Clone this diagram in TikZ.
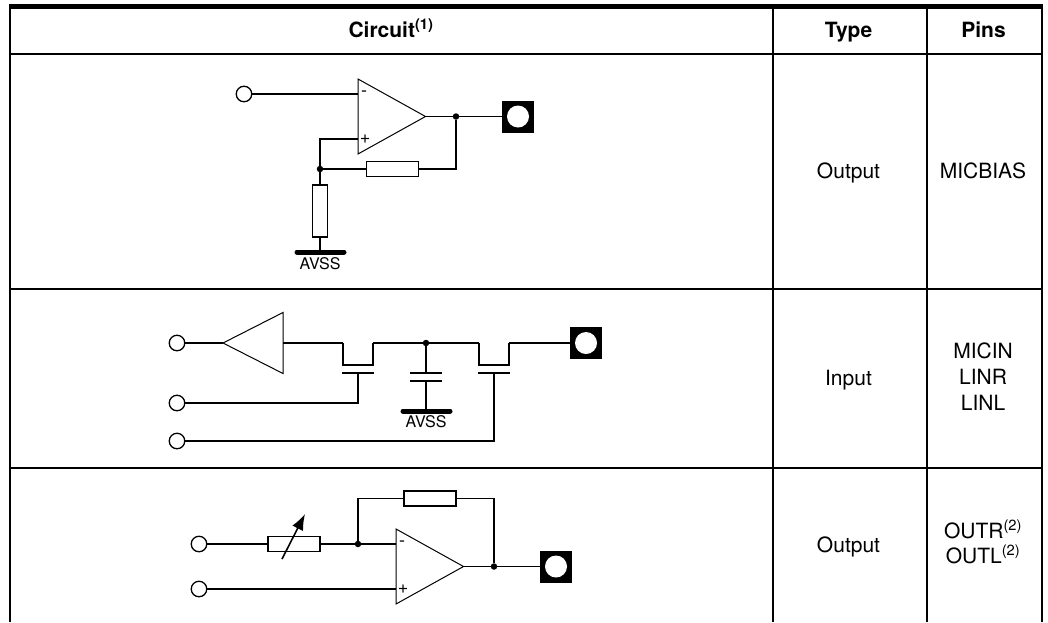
\documentclass[tikz,border=0pt]{standalone}
\usepackage{fontspec}
\setmainfont{TeX Gyre Heros}
\usepackage{tikz}
\usetikzlibrary{
  arrows.meta
}
\tikzset{
  x=1pt,
  y=-1pt,
  wire/.style={line width=1.6pt},
  rule/.style={line width=2pt},
  cell/.style={font=\fontsize{21}{26}\selectfont,anchor=base,inner sep=0pt},
  head/.style={cell,font=\fontsize{21}{26}\selectfont\bfseries},
  terminal/.style={draw,line width=1.3pt,circle,fill=white,inner sep=0pt,minimum size=15.5pt},
  pad/.style={fill=black,inner sep=0pt,minimum size=32pt},
  padhole/.style={fill=white,circle,inner sep=0pt,minimum size=22pt},
  junction/.style={fill=black,circle,inner sep=0pt,minimum size=6.5pt},
  hres/.style={draw,wire,fill=white,inner sep=0pt,minimum width=52pt,minimum height=15pt},
  vres/.style={draw,wire,fill=white,inner sep=0pt,minimum width=15pt,minimum height=52pt},
  railbar/.style={line width=5pt,line cap=round},
  railtext/.style={font=\fontsize{16}{18}\selectfont,inner sep=0pt},
  sign/.style={font=\fontsize{18}{18}\selectfont,inner sep=0pt},
  pics/opamp/.style={
    code={
      \draw[line width=1pt] (0,-37.5) coordinate (-top) -- (0,37.5) coordinate (-bot)
        -- (67.5,0) coordinate (-out) -- cycle;
      \coordinate (-minus) at (0,-22.5);
      \coordinate (-plus) at (0,22.5);
      \node[sign] at (6,-22.5) {-};
      \node[sign] at (7,22.5) {+};
    }
  },
  pics/buffer/.style={
    code={
      \draw[line width=1pt] (0,-30.5) -- (0,30.5) -- (-60,0) coordinate (-in) -- cycle;
      \coordinate (-out) at (0,0);
    }
  },
  pics/switch/.style={
    code={
      \coordinate (-in) at (0,-22);
      \coordinate (-out) at (30,-22);
      \draw[wire] (-in) -- (0,0) -- (30,0) -- (-out);
      \draw[wire] (-1,8) -- (31,8);
      \coordinate (-gate) at (15,8);
    }
  }
}
\begin{document}
\begin{tikzpicture}
\useasboundingbox (0,0) rectangle (1048,622);
% table
\draw[line width=5pt] (9,6.5) -- (1043,6.5);
\foreach \y in {54,289,468} {
  \draw[rule] (10,\y) -- (1042,\y);
}
\foreach \x in {10,773,927,1042} {
  \draw[rule] (\x,9) -- (\x,622);
}
\node[head] (circuit) at (391,37) {Circuit\textsuperscript{(1)}};
\node[head] (type) at (848.5,37) {Type};
\node[head] (pins) at (983.5,37) {Pins};
\node[cell] (typeA) at (848.5,178) {Output};
\node[cell] (typeB) at (848.5,385) {Input};
\node[cell] (typeC) at (848.5,552) {Output};
\node[cell] (pinsA) at (983,178) {MICBIAS};
\foreach \t/\y in {MICIN/358,LINR/384,LINL/410,{OUTR\textsuperscript{(2)}}/538,{OUTL\textsuperscript{(2)}}/563} {
  \node[cell] (pins\y) at (983,\y) {\t};
}
% first row
\pic (ampA) at (358,116.5) {opamp};
\node[terminal] (inA) at (244,94) {};
\node[pad] (padA) at (518,116.5) {};
\node[padhole] (holeA) at (padA) {};
\node[junction] (outA) at (456,116.5) {};
\node[junction] (fbA) at (320,169) {};
\node[hres] (resA) at (392.5,169) {};
\node[vres] (resB) at (320,211) {};
\coordinate (gndA) at (320,252);
\draw[railbar] (297,252) -- (344,252);
\node[railtext] (avssA) at (320,264) {AVSS};
\draw[wire] (inA) -- (ampA-minus);
\draw[wire] (ampA-out) -- (padA);
\draw[wire] (ampA-plus) -| (fbA);
\draw[wire] (fbA) -- (resA);
\draw[wire] (resA) -| (outA);
\draw[wire] (fbA) -- (resB);
\draw[wire] (resB) -- (gndA);
% second row
\foreach \n/\y in {B/343,C/403,D/441} {
  \node[terminal] (in\n) at (177,\y) {};
}
\pic (bufB) at (283,343) {buffer};
\pic (swA) at (343,365) {switch};
\pic (swB) at (479,365) {switch};
\node[junction] (midB) at (426,343) {};
\node[pad] (padB) at (586,343) {};
\node[padhole] (holeB) at (padB) {};
\coordinate (capTop) at (426,373);
\coordinate (capBot) at (426,381);
\coordinate (gndB) at (426,411);
\draw[wire] (410,373) -- (442,373);
\draw[wire] (410,381) -- (442,381);
\draw[railbar] (403,411) -- (450,411);
\node[railtext] (avssB) at (426,422) {AVSS};
\draw[wire] (inB) -- (bufB-in);
\draw[wire] (bufB-out) -- (swA-in);
\draw[wire] (swA-out) -- (swB-in);
\draw[wire] (swB-out) -- (padB);
\draw[wire] (midB) -- (capTop);
\draw[wire] (capBot) -- (gndB);
\draw[wire] (inC) -| (swA-gate);
\draw[wire] (inD) -| (swB-gate);
% third row
\foreach \n/\y in {E/544,F/589} {
  \node[terminal] (in\n) at (199,\y) {};
}
\pic (ampB) at (396,566.5) {opamp};
\node[hres] (resC) at (294,544) {};
\node[hres] (resD) at (430,498.5) {};
\node[junction] (sumC) at (358,544) {};
\node[junction] (outC) at (494,566.5) {};
\node[pad] (padC) at (556,566.5) {};
\node[padhole] (holeC) at (padC) {};
\coordinate (tailC) at (282,559);
\coordinate (tipC) at (305,514);
\draw[wire] (inE) -- (resC);
\draw[wire] (resC) -- (sumC);
\draw[wire] (sumC) -- (ampB-minus);
\draw[wire] (sumC) |- (resD);
\draw[wire] (resD) -| (outC);
\draw[wire] (ampB-out) -- (padC);
\draw[wire] (inF) -- (ampB-plus);
\draw[wire,-{Latex[length=16pt,width=12pt]}] (tailC) -- (tipC);
\end{tikzpicture}
\end{document}
